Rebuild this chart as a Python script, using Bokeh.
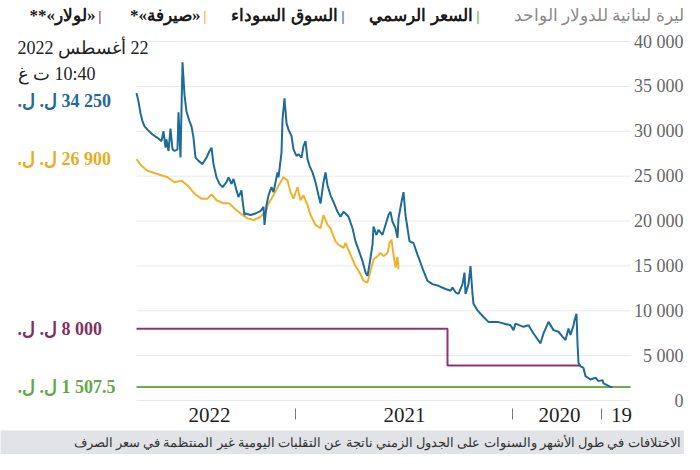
import re
from bokeh.plotting import figure
from bokeh.models import Range1d, Label, LabelSet, ColumnDataSource
from bokeh.layouts import column
from bokeh.core.properties import value
from bokeh.embed import file_html
from bokeh.resources import INLINE

# ---------------- data (x = observation index along the timeline, newest = 494) ----------------
blue_idx = [18, 20, 23, 27, 28, 32, 35, 40, 45, 47, 50, 52, 53, 54, 56, 57, 60, 62, 65, 68, 72, 77,
            82, 87, 90, 97, 102, 107, 115, 117, 120, 127, 133, 142, 147, 153, 157, 158, 160, 162,
            165, 166, 168, 172, 175, 178, 180, 185, 192, 198, 203, 207, 210, 213, 217, 221, 223,
            225, 227, 229, 232, 233, 235, 238, 240, 242, 246, 248, 252, 254, 257, 258, 261, 263,
            265, 268, 272, 275, 278, 282, 285, 287, 290, 293, 297, 300, 303, 305, 307, 310, 312,
            315, 318, 321, 323, 325, 327, 329, 332, 334, 337, 339, 342, 344, 346, 348, 349, 352,
            353, 355, 357, 359, 362, 364, 366, 367, 370, 375, 380, 385, 386, 388, 389, 392, 394,
            397, 399, 402, 404, 408, 411, 414, 417, 419, 421, 424, 428, 432, 435, 437, 439, 441,
            444, 446, 448, 450, 452, 453, 456, 458, 460, 462, 464, 465, 467, 469, 473, 478, 483,
            486, 488, 490, 492, 494]
blue_val = [1510, 1510, 1680, 1900, 2270, 2160, 2530, 2340, 2710, 3630, 3810, 4180, 6370, 9670,
            8930, 8390, 7290, 8020, 6740, 7110, 7660, 7840, 8760, 7470, 6370, 7470, 8390, 8210,
            8570, 7840, 8390, 8570, 8760, 8760, 9300, 10040, 10770, 11870, 14980, 12970, 11870,
            14250, 12970, 11870, 12050, 12600, 12230, 12420, 12780, 12970, 13330, 14430, 15350,
            16260, 17550, 17730, 19190, 20660, 23220, 22120, 20290, 18100, 19190, 19920, 21020,
            20660, 19190, 18460, 19010, 18460, 19380, 17360, 15160, 13880, 14250, 15530, 16810,
            17730, 19190, 20470, 20840, 21020, 20470, 21020, 22120, 22860, 23960, 25420, 24320,
            21950, 22860, 24320, 25420, 26150, 26890, 28900, 28350, 27070, 27440, 27250, 27990,
            29450, 30180, 30910, 33660, 31280, 27620, 24870, 25420, 24320, 23220, 23770, 22860,
            21760, 19560, 21570, 21100, 20840, 20660, 20840, 20660, 22310, 23410, 22670, 23410,
            24690, 24140, 24870, 24320, 23770, 24140, 24870, 26340, 28170, 27800, 27070, 26340,
            26700, 27070, 29270, 30550, 31100, 32200, 34030, 37690, 27070, 32120, 27990, 27800,
            27990, 30300, 27800, 29090, 28170, 30000, 28900, 29270, 29640, 30180, 30550, 31100,
            32010, 33300, 34250]

sayrafa_idx = [232, 233, 235, 237, 239, 241, 243, 247, 250, 253, 257, 260, 263, 267, 270, 275,
               280, 285, 287, 292, 295, 300, 303, 307, 310, 315, 320, 323, 327, 330, 333, 337,
               340, 343, 347, 352, 357, 362, 365, 370, 377, 383, 390, 396, 401, 408, 414, 419,
               423, 429, 436, 443, 449, 456, 463, 473, 483, 489, 494]
sayrafa_val = [14620, 16000, 14800, 16260, 17910, 17550, 16450, 16080, 16450, 16080, 15710, 14430,
               13150, 13330, 14070, 14980, 16260, 17550, 17000, 17360, 17730, 19190, 19560, 20660,
               19190, 19560, 20660, 21760, 22860, 22310, 23770, 22490, 23220, 24500, 24870, 23960,
               22860, 21950, 21020, 20470, 20110, 20290, 20840, 21390, 21940, 22010, 22310, 22970,
               22490, 22490, 23040, 23960, 24500, 24320, 24870, 25240, 25600, 26150, 26900]

lollar_idx = [50, 183, 494]
lollar_val = [3900, 8000, 8000]

official_idx = [0, 494]
official_val = [1507.5, 1507.5]

year_labels = ["2022", "2021", "2020", "19"]
year_label_idx = [421, 226, 71, 9]
year_start_idx = [335, 118, 29]

y_ticks = [0, 5000, 10000, 15000, 20000, 25000, 30000, 35000, 40000]
y_tick_labels = ["0", "5 000", "10 000", "15 000", "20 000", "25 000", "30 000", "35 000", "40 000"]

title_text = "ليرة لبنانية للدولار الواحد"
legend_texts = ["السعر الرسمي", "السوق السوداء", "«صيرفة»*", "«لولار»**"]
date_text = "22 أغسطس 2022"
time_text = "10:40 ت غ"
end_labels = ["34 250 ل. ل.", "26 900 ل. ل.", "8 000 ل. ل.", "1 507.5 ل. ل."]
footnote = "الاختلافات في طول الأشهر والسنوات على الجدول الزمني ناتجة عن التقلبات اليومية غير المنتظمة في سعر الصرف"

# ---------------- style ----------------
FONT = "Liberation Serif"
BLUE = "#1f6a99"
YELLOW = "#eeb32b"
PURPLE = "#8b3571"
GREEN = "#6aad4c"
FOOT_BG = "#e1e3e6"

def rtl(s):
    # right-to-left embedding; keep digit groups together as one number
    s = re.sub(r"(?<=\d) (?=\d)", "\u00a0", s)
    return "\u202b" + s + "\u202c"

X_NEW, X_OLD = 494, 0          # newest / oldest observation
Y_TOP = 40000
W, H, FOOT_H = 684, 430, 24
PLOT_L, PLOT_R, PLOT_T, PLOT_B = 136, 630, 41, 400   # data area inside the canvas
px_per_x = (PLOT_R - PLOT_L) / (X_NEW - X_OLD)
px_per_y = (PLOT_B - PLOT_T) / Y_TOP

# The frame covers the whole canvas so that the texts around the data area are not clipped;
# the ranges are widened so the data area keeps its place.
x_range = Range1d(X_NEW + PLOT_L / px_per_x, X_OLD - (W - PLOT_R) / px_per_x)
y_range = Range1d(-(H - PLOT_B) / px_per_y, PLOT_B / px_per_y)

chart = figure(width=W, height=H, x_range=x_range, y_range=y_range,
               toolbar_location=None, output_backend="svg",
               x_axis_location=None, y_axis_location=None, min_border=0,
               outline_line_color=None, background_fill_color="white", border_fill_color="white")
chart.grid.visible = False

# horizontal grid lines over the data area only
chart.segment(x0=[X_NEW] * len(y_ticks), x1=[X_OLD] * len(y_ticks), y0=y_ticks, y1=y_ticks,
              line_color="#e8e8e8", line_width=1)

# time axis: year separators and year labels below the zero line
sep_top = -8 / px_per_y
sep_bot = -19 / px_per_y
chart.segment(x0=year_start_idx, x1=year_start_idx, y0=[sep_top] * len(year_start_idx),
              y1=[sep_bot] * len(year_start_idx), line_color="#777777", line_width=1)
xsrc = ColumnDataSource(dict(x=year_label_idx, text=year_labels))
chart.add_layout(LabelSet(x="x", y=0, text="text", source=xsrc, y_offset=-14,
                          text_align="center", text_baseline="middle",
                          text_font=value(FONT), text_font_size="21px", text_color="#222222"))

# series
chart.line(official_idx, official_val, line_color=GREEN, line_width=2)
chart.step(lollar_idx, lollar_val, mode="after", line_color=PURPLE, line_width=2)
chart.line(sayrafa_idx, sayrafa_val, line_color=YELLOW, line_width=2)
chart.line(blue_idx, blue_val, line_color=BLUE, line_width=2)

# y tick labels on the right, right-aligned
ysrc = ColumnDataSource(dict(y=y_ticks, text=y_tick_labels))
chart.add_layout(LabelSet(x=X_OLD, y="y", text="text", source=ysrc, x_offset=53,
                          text_align="right", text_baseline="middle",
                          text_font=value(FONT), text_font_size="18px", text_color="#666666"))

# header: title + legend (RTL, anchored by right edge)
def top_label(text, x_off, color, bold=False, size="17px"):
    chart.add_layout(Label(x=X_NEW, y=Y_TOP, x_offset=x_off, y_offset=26, text=text,
                           text_align="right", text_baseline="middle", text_font=FONT,
                           text_font_size=size, text_color=color,
                           text_font_style="bold" if bold else "normal"))

top_label(title_text, 547, "#8a8a8a")
legend_colors = [GREEN, BLUE, YELLOW, PURPLE]
legend_bar_off = [343, 208, 70, -35]
legend_text_off = [336, 201, 64, -41]
for t, c, bo, to in zip(legend_texts, legend_colors, legend_bar_off, legend_text_off):
    top_label("|", bo, c, bold=True, size="15px")
    top_label(rtl(t), to, "#1a1a1a", bold=True)

# date / time
chart.add_layout(Label(x=X_NEW, y=Y_TOP, x_offset=-119, y_offset=-6, text=rtl(date_text),
                       text_align="left", text_baseline="middle", text_font=FONT,
                       text_font_size="18px", text_color="#222222",
                       background_fill_color="white"))
chart.add_layout(Label(x=X_NEW, y=Y_TOP, x_offset=-119, y_offset=-32, text=rtl(time_text),
                       text_align="left", text_baseline="middle", text_font=FONT,
                       text_font_size="18px", text_color="#222222"))

# end value labels
end_vals = [blue_val[-1], sayrafa_val[-1], lollar_val[-1], official_val[-1]]
end_colors = [BLUE, "#e9ac1f", "#84305f", "#66a84a"]
end_yoff = [-8, 0, 0, 0]
for t, v, c, yo in zip(end_labels, end_vals, end_colors, end_yoff):
    chart.add_layout(Label(x=X_NEW, y=v, x_offset=-119, y_offset=yo, text=rtl(t),
                           text_align="left", text_baseline="middle", text_font=FONT,
                           text_font_size="18px", text_font_style="bold", text_color=c))

# footnote band
foot = figure(width=W, height=FOOT_H, x_range=Range1d(0, 1), y_range=Range1d(0, 1),
              toolbar_location=None, output_backend="svg", x_axis_location=None,
              y_axis_location=None, min_border=0, outline_line_color=None,
              background_fill_color=FOOT_BG, border_fill_color=FOOT_BG)
foot.grid.visible = False
foot.add_layout(Label(x=1, y=0.5, x_offset=-4, text=footnote, text_align="right",
                      text_baseline="middle", text_font=FONT, text_font_size="13px",
                      text_color="#333333"))

p = column(chart, foot, spacing=0)
open("out.html", "w").write(file_html(p, INLINE))
